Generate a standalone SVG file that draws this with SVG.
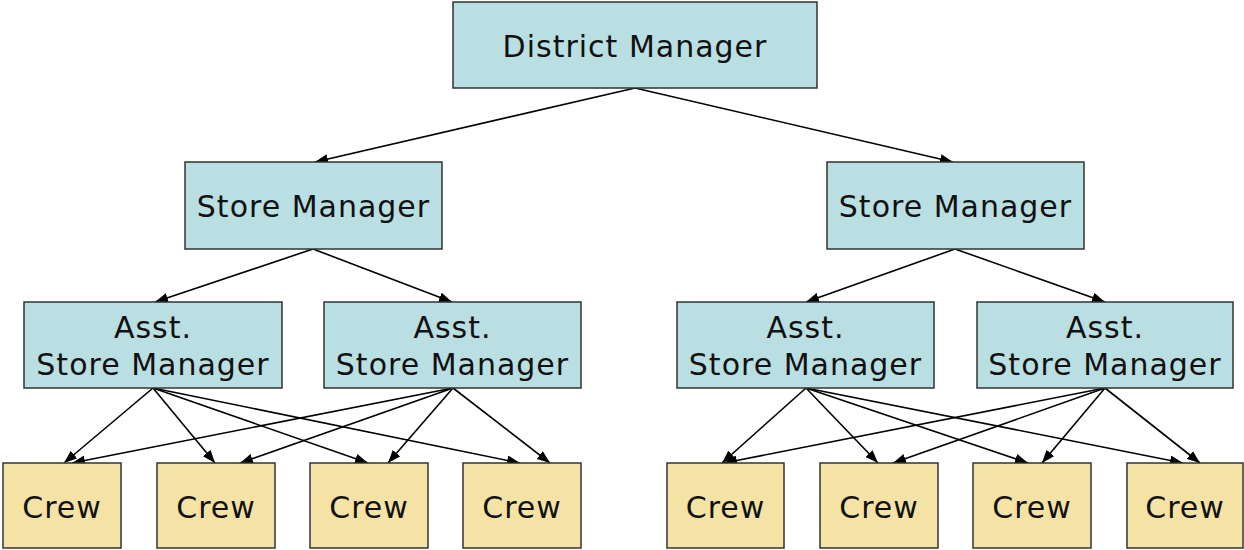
<svg xmlns="http://www.w3.org/2000/svg" width="1244" height="550" viewBox="0 0 1244 550">
<style>
.mgr{fill:#b9dfe3;stroke:#333;stroke-width:1.5}
.crew{fill:#f5e3a5;stroke:#333;stroke-width:1.5}
text{font-family:"DejaVu Sans",Verdana,sans-serif;font-size:30px;letter-spacing:1px;fill:#111;text-anchor:middle}
.c line{stroke:#000;stroke-width:1.6;marker-end:url(#ah)}
</style>
<defs>
<marker id="ah" viewBox="0 0 13 10" refX="13" refY="5" markerWidth="13" markerHeight="10" markerUnits="userSpaceOnUse" orient="auto">
<path d="M0,0 L13,5 L0,10 Z" fill="#000"/>
</marker>
</defs>
<rect width="1244" height="550" fill="#fff"/>
<g class="c">
<line x1="635" y1="88" x2="315" y2="162"/>
<line x1="635" y1="88" x2="953" y2="162"/>
<line x1="313" y1="249" x2="155" y2="302"/>
<line x1="313" y1="249" x2="452" y2="302"/>
<line x1="955" y1="249" x2="806" y2="302"/>
<line x1="955" y1="249" x2="1105" y2="302"/>
<line x1="153" y1="388" x2="64" y2="463"/>
<line x1="153" y1="388" x2="215" y2="463"/>
<line x1="153" y1="388" x2="368" y2="463"/>
<line x1="153" y1="388" x2="520" y2="463"/>
<line x1="453" y1="388" x2="72" y2="463"/>
<line x1="453" y1="388" x2="240" y2="463"/>
<line x1="453" y1="388" x2="388" y2="463"/>
<line x1="453" y1="388" x2="550" y2="463"/>
<line x1="806" y1="388" x2="722" y2="463"/>
<line x1="806" y1="388" x2="878" y2="463"/>
<line x1="806" y1="388" x2="1028" y2="463"/>
<line x1="806" y1="388" x2="1183" y2="463"/>
<line x1="1105" y1="388" x2="724" y2="463"/>
<line x1="1105" y1="388" x2="893" y2="463"/>
<line x1="1105" y1="388" x2="1042" y2="463"/>
<line x1="1105" y1="388" x2="1200" y2="463"/>
</g>
<g id="district"><rect class="mgr" x="453" y="2" width="364" height="86"/><text x="635" y="57">District Manager</text></g>
<g id="store1"><rect class="mgr" x="185" y="162" width="257" height="87"/><text x="313.5" y="217">Store Manager</text></g>
<g id="store2"><rect class="mgr" x="827" y="162" width="257" height="87"/><text x="955.5" y="217">Store Manager</text></g>
<g id="asst1"><rect class="mgr" x="24" y="302" width="258" height="86"/><text x="153" y="338">Asst.</text><text x="153" y="375">Store Manager</text></g>
<g id="asst2"><rect class="mgr" x="324" y="302" width="257" height="86"/><text x="452.5" y="338">Asst.</text><text x="452.5" y="375">Store Manager</text></g>
<g id="asst3"><rect class="mgr" x="677" y="302" width="257" height="86"/><text x="805.5" y="338">Asst.</text><text x="805.5" y="375">Store Manager</text></g>
<g id="asst4"><rect class="mgr" x="977" y="302" width="256" height="86"/><text x="1105" y="338">Asst.</text><text x="1105" y="375">Store Manager</text></g>
<g id="crew1"><rect class="crew" x="3" y="463" width="118" height="85"/><text x="62" y="518">Crew</text></g>
<g id="crew2"><rect class="crew" x="157" y="463" width="118" height="85"/><text x="216" y="518">Crew</text></g>
<g id="crew3"><rect class="crew" x="310" y="463" width="118" height="85"/><text x="369" y="518">Crew</text></g>
<g id="crew4"><rect class="crew" x="463" y="463" width="118" height="85"/><text x="522" y="518">Crew</text></g>
<g id="crew5"><rect class="crew" x="667" y="463" width="117" height="85"/><text x="725.5" y="518">Crew</text></g>
<g id="crew6"><rect class="crew" x="820" y="463" width="118" height="85"/><text x="879" y="518">Crew</text></g>
<g id="crew7"><rect class="crew" x="973" y="463" width="118" height="85"/><text x="1032" y="518">Crew</text></g>
<g id="crew8"><rect class="crew" x="1127" y="463" width="116" height="85"/><text x="1185" y="518">Crew</text></g>
</svg>
